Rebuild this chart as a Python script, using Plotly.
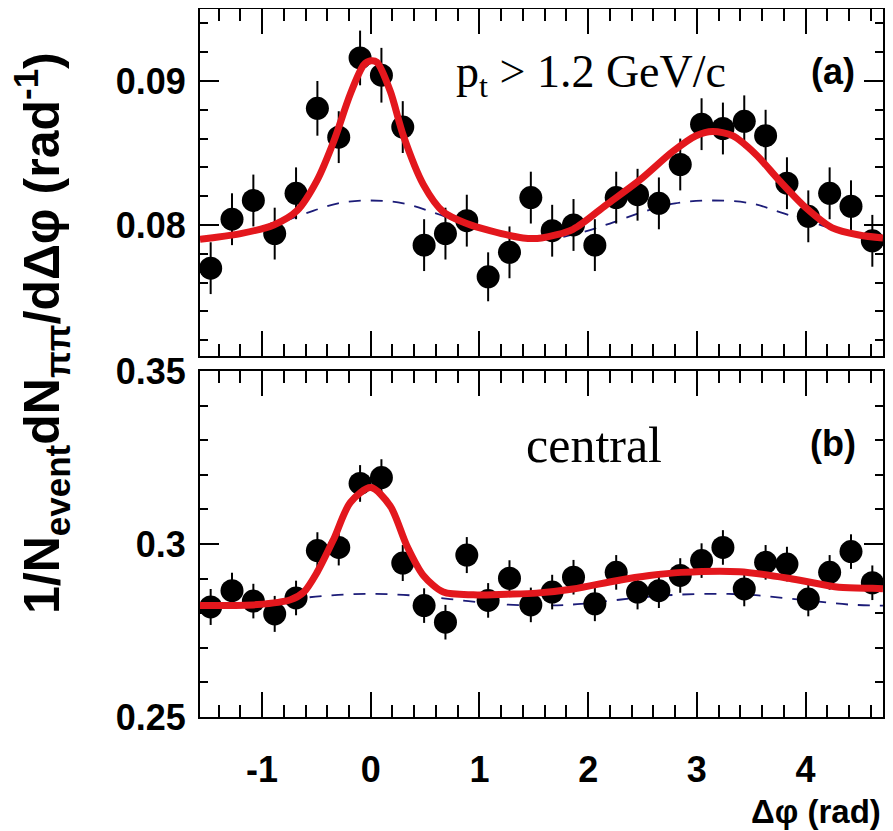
import plotly.graph_objects as go

# ---- data ----
dphi_bins = [-1.4726, -1.2763, -1.0799, -0.8836, -0.6872, -0.4909, -0.2945, -0.0982,
             0.0982, 0.2945, 0.4909, 0.6872, 0.8836, 1.0799, 1.2763, 1.4726,
             1.6690, 1.8653, 2.0617, 2.2580, 2.4544, 2.6507, 2.8471, 3.0434,
             3.2398, 3.4361, 3.6325, 3.8288, 4.0252, 4.2215, 4.4179, 4.6142]

yield_a = [0.0770, 0.0804, 0.0817, 0.0794, 0.0822, 0.0881, 0.0861, 0.0916,
           0.0904, 0.0868, 0.0786, 0.0794, 0.0803, 0.0764, 0.0781, 0.0819,
           0.0796, 0.0800, 0.0786, 0.0819, 0.0821, 0.0815, 0.0842, 0.0870,
           0.0867, 0.0872, 0.0862, 0.0829, 0.0806, 0.0822, 0.0813, 0.0789]
err_a = [0.0018, 0.0018, 0.0018, 0.0018, 0.0018, 0.0019, 0.0018, 0.0019,
         0.0019, 0.0018, 0.0018, 0.0018, 0.0018, 0.0017, 0.0018, 0.0018,
         0.0018, 0.0018, 0.0018, 0.0018, 0.0018, 0.0018, 0.0018, 0.0018,
         0.0018, 0.0018, 0.0018, 0.0018, 0.0018, 0.0018, 0.0018, 0.0018]

yield_b = [0.2818, 0.2865, 0.2835, 0.2798, 0.2844, 0.2981, 0.2990, 0.3175,
           0.3192, 0.2945, 0.2822, 0.2774, 0.2968, 0.2837, 0.2901, 0.2824,
           0.2861, 0.2904, 0.2827, 0.2918, 0.2861, 0.2865, 0.2909, 0.2952,
           0.2990, 0.2870, 0.2947, 0.2942, 0.2841, 0.2918, 0.2978, 0.2888]
err_b = [0.0052, 0.0052, 0.0050, 0.0052, 0.0050, 0.0053, 0.0052, 0.0053,
         0.0053, 0.0052, 0.0050, 0.0050, 0.0052, 0.0050, 0.0052, 0.0050,
         0.0050, 0.0050, 0.0050, 0.0050, 0.0050, 0.0050, 0.0050, 0.0050,
         0.0050, 0.0050, 0.0050, 0.0050, 0.0050, 0.0050, 0.0050, 0.0050]

# fit curves (red)
fit_a_x = [-1.571, -1.472, -1.197, -0.892, -0.677, -0.494, -0.341, -0.188, -0.066, 0.0,
           0.057, 0.179, 0.300, 0.484, 0.668, 0.882, 1.096, 1.400, 1.571, 1.861,
           2.167, 2.472, 2.778, 2.992, 3.145, 3.328, 3.543, 3.757, 4.002, 4.246,
           4.491, 4.712]
fit_a_y = [0.0790, 0.0791, 0.0794, 0.0800, 0.0810, 0.0831, 0.0858, 0.0891, 0.0911, 0.0914,
           0.0913, 0.0893, 0.0862, 0.0828, 0.0809, 0.0801, 0.0796, 0.0791, 0.0791, 0.0797,
           0.0814, 0.0831, 0.0851, 0.0862, 0.0865, 0.0862, 0.0849, 0.0831, 0.0812, 0.0798,
           0.0793, 0.0791]

fit_b_x = [-1.571, -1.472, -1.044, -0.739, -0.616, -0.494, -0.341, -0.188, 0.0, 0.179,
           0.332, 0.484, 0.668, 0.943, 1.250, 1.525, 1.861, 2.259, 2.564, 2.855,
           3.390, 3.879, 4.307, 4.613, 4.712]
fit_b_y = [0.2822, 0.2822, 0.2825, 0.2839, 0.2861, 0.2918, 0.3014, 0.3120, 0.3163, 0.3110,
           0.2995, 0.2909, 0.2861, 0.2853, 0.2855, 0.2858, 0.2870, 0.2894, 0.2909, 0.2918,
           0.2920, 0.2899, 0.2875, 0.2872, 0.2871]

# flow background (dashed)
bg_x = [-1.571, -1.2, -0.9, -0.6, -0.3, 0.0, 0.3, 0.6, 0.9, 1.2, 1.571,
        1.9, 2.2, 2.5, 2.8, 3.14, 3.5, 3.8, 4.1, 4.4, 4.712]
bg_a = [0.0790, 0.0794, 0.0800, 0.0808, 0.0815, 0.0817, 0.0815, 0.0808, 0.0800, 0.0794, 0.0790,
        0.0794, 0.0801, 0.0809, 0.0815, 0.0817, 0.0815, 0.0808, 0.0801, 0.0794, 0.0790]
bg_b = [0.2822, 0.2826, 0.2835, 0.2845, 0.2853, 0.2856, 0.2853, 0.2845, 0.2835, 0.2826, 0.2822,
        0.2826, 0.2836, 0.2846, 0.2853, 0.2856, 0.2853, 0.2844, 0.2834, 0.2825, 0.2822]

x_range = [-1.5708, 4.7124]
x_tickvals = [-1, 0, 1, 2, 3, 4]
x_ticktext = ["-1", "0", "1", "2", "3", "4"]

RED = "#e3171d"
NAVY = "#1c1c78"

fig = go.Figure()

for (xa, ya, bg, yv, ev, fx, fy) in [("x", "y", bg_b, yield_b, err_b, fit_b_x, fit_b_y),
                                      ("x2", "y2", bg_a, yield_a, err_a, fit_a_x, fit_a_y)]:
    fig.add_trace(go.Scatter(x=bg_x, y=bg, mode="lines", xaxis=xa, yaxis=ya,
                             line=dict(color=NAVY, width=1.8, dash="12px,10px", shape="spline"),
                             showlegend=False, hoverinfo="skip"))
    fig.add_trace(go.Scatter(x=dphi_bins, y=yv, mode="markers", xaxis=xa, yaxis=ya,
                             marker=dict(color="black", size=23, symbol="circle"),
                             error_y=dict(type="data", array=ev, color="black", thickness=2, width=0),
                             showlegend=False))
    fig.add_trace(go.Scatter(x=fx, y=fy, mode="lines", xaxis=xa, yaxis=ya,
                             line=dict(color=RED, width=7, shape="spline", smoothing=0.8),
                             showlegend=False, hoverinfo="skip"))

tickfont = dict(family="Liberation Sans", size=36, color="black", weight="bold")
common_x = dict(range=x_range, showline=True, linecolor="black", linewidth=2, mirror="ticks",
                ticks="inside", ticklen=25, tickwidth=1.5, tickcolor="black",
                tickvals=x_tickvals, ticktext=x_ticktext, showgrid=False, zeroline=False,
                automargin=False,
                minor=dict(ticks="inside", ticklen=12, tickwidth=1.5, tickcolor="black",
                           dtick=0.2, tick0=0, showgrid=False),
                tickfont=tickfont)
common_y = dict(showline=True, linecolor="black", linewidth=2, mirror="ticks",
                ticks="inside", ticklen=19, tickwidth=1.5, tickcolor="black",
                showgrid=False, zeroline=False, tickfont=tickfont, ticklabelstandoff=5,
                automargin=False)

# the page body adds an 8px offset, so margins are set 8px smaller on the left/top
fig.update_layout(
    template="none",
    width=893, height=831,
    paper_bgcolor="white", plot_bgcolor="white",
    margin=dict(l=192, r=18, t=1, b=122, autoexpand=False),
    xaxis=dict(**common_x, anchor="y", showticklabels=True, ticklabelstandoff=20),
    xaxis2=dict(**common_x, anchor="y2", matches="x", showticklabels=False),
    yaxis=dict(**common_y, domain=[0, 0.4887], range=[0.25, 0.35], tickvals=[0.25, 0.3, 0.35],
               ticktext=["0.25", "0.3", "0.35"],
               minor=dict(ticks="inside", ticklen=8, tickwidth=1.5, tickcolor="black",
                          dtick=0.01, tick0=0.25, showgrid=False)),
    yaxis2=dict(**common_y, domain=[0.5099, 1], range=[0.0709, 0.0950], tickvals=[0.08, 0.09],
                ticktext=["0.08", "0.09"],
                minor=dict(ticks="inside", ticklen=8, tickwidth=1.5, tickcolor="black",
                           dtick=0.002, tick0=0.07, showgrid=False)),
)

def px_x(p):
    return (p - 200) / 683.0

def px_y(p):
    return (717 - p) / 708.0

ann = [
    dict(text="1/N<sub>event</sub>dN<sub>ππ</sub>/dΔφ (rad<sup>-1</sup>)", textangle=-90,
         x=px_x(41), y=px_y(333), font=dict(family="Liberation Sans", size=50, weight="bold")),
    dict(text="Δφ (rad)", x=px_x(883), y=px_y(811), xanchor="right",
         font=dict(family="Liberation Sans", size=33, weight="bold")),
    dict(text="(a)", x=px_x(833), y=px_y(72), font=dict(family="Liberation Sans", size=36, weight="bold")),
    dict(text="(b)", x=px_x(833), y=px_y(443), font=dict(family="Liberation Sans", size=36, weight="bold")),
    dict(text="p<sub>t</sub> > 1.2 GeV/c", x=px_x(591), y=px_y(75),
         font=dict(family="Liberation Serif", size=46)),
    dict(text="central", x=px_x(594), y=px_y(445),
         font=dict(family="Liberation Serif", size=50)),
]
for a in ann:
    a.setdefault("xref", "paper")
    a.setdefault("yref", "paper")
    a.setdefault("showarrow", False)
    a.setdefault("xanchor", "center")
    a.setdefault("yanchor", "middle")
    a["font"]["color"] = "black"
fig.update_layout(annotations=ann)

fig.write_html("out.html")
